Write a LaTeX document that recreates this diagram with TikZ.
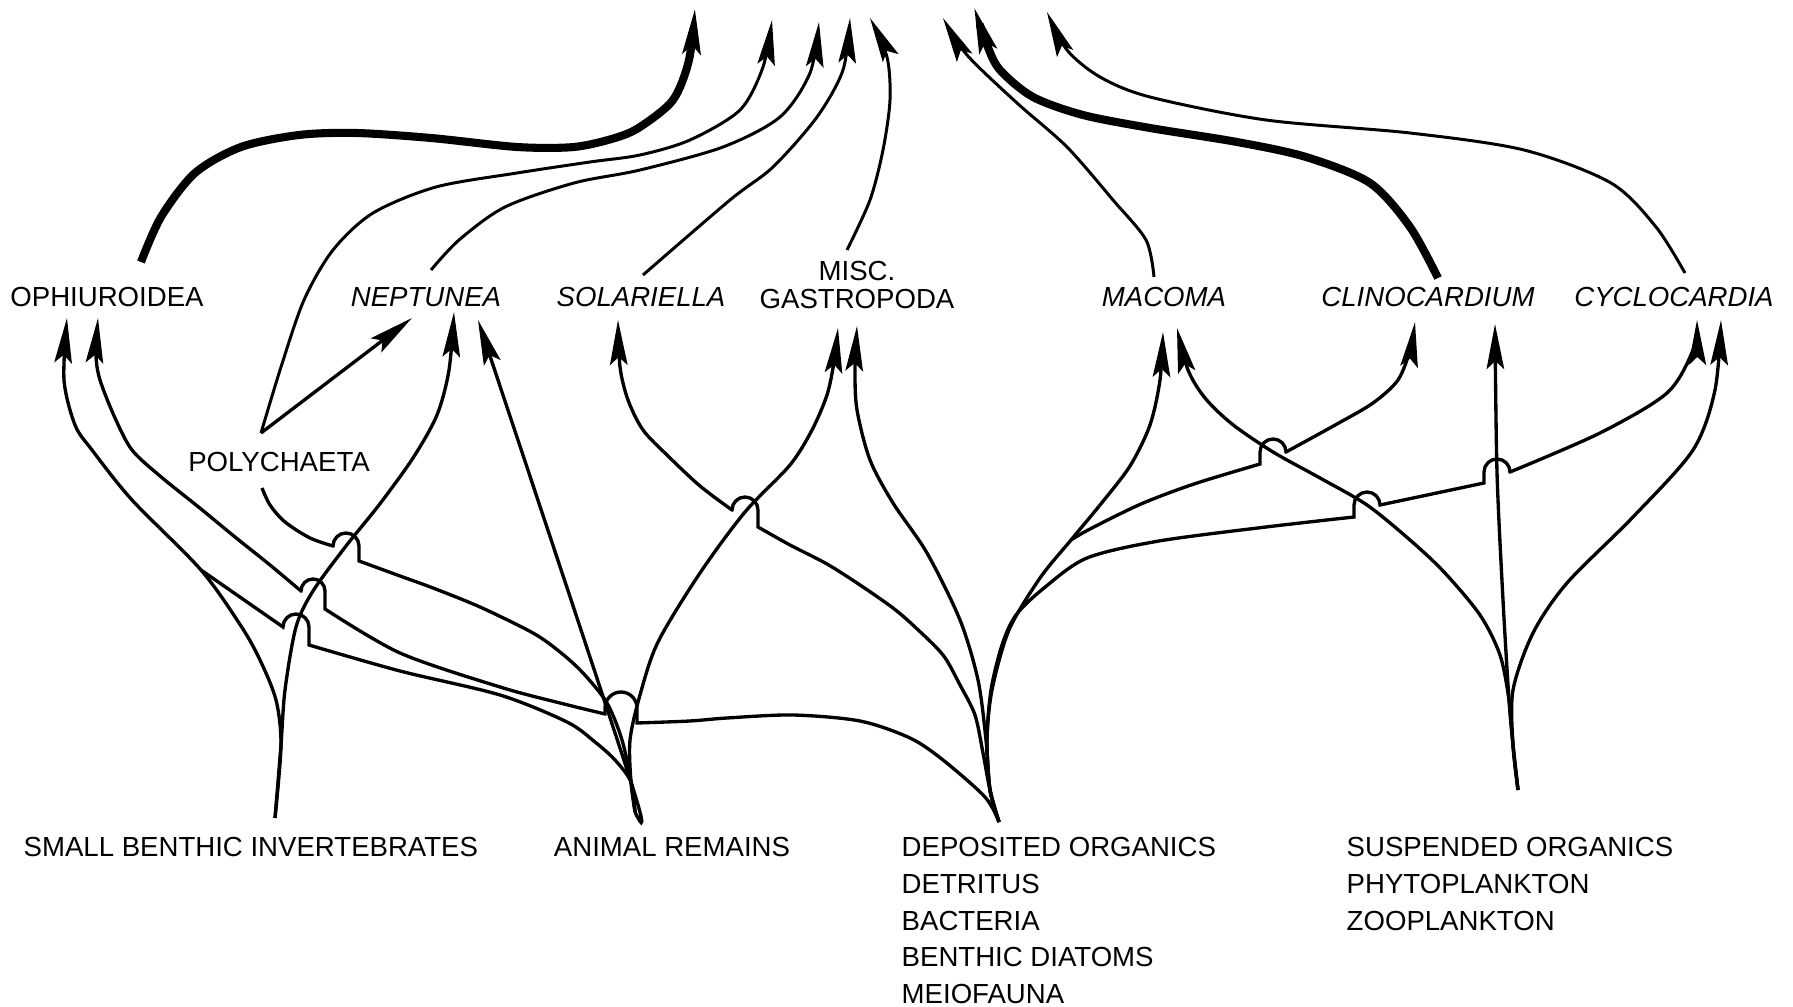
\documentclass[tikz,border=0pt]{standalone}
\usepackage{fontspec}
\setmainfont{Liberation Sans}
\usetikzlibrary{arrows.meta}

\begin{document}
\begin{tikzpicture}[x=0.1mm,y=-0.1mm]
\useasboundingbox (0,0) rectangle (1793,1007);

\coordinate (SBI_0) at (275,818);
\coordinate (ANR_0) at (635,812);
\coordinate (DEP_0) at (999,822);
\coordinate (SUS_0) at (1518,790);

\coordinate (OPH_0) at (141,262);
\coordinate (OPH_1) at (67,318);
\coordinate (OPH_2) at (98,318);
\coordinate (OPH_J) at (201,570);
\coordinate (POL_1) at (262,488);
\coordinate (POL_2) at (261,433);
\coordinate (NEP_0) at (431,270);
\coordinate (NEP_1) at (412,318);
\coordinate (NEP_2) at (454,312);
\coordinate (NEP_3) at (478,320);
\coordinate (SOL_0) at (643,275);
\coordinate (SOL_1) at (618,320);
\coordinate (MSC_0) at (847,250);
\coordinate (MSC_1) at (838,328);
\coordinate (MSC_2) at (857,326);
\coordinate (MAC_0) at (1154,277);
\coordinate (MAC_1) at (1163,332);
\coordinate (MAC_2) at (1177,328);
\coordinate (CLI_0) at (1438,278);
\coordinate (CLI_1) at (1415,322);
\coordinate (CLI_2) at (1495,324);
\coordinate (CLI_J) at (1071,540);
\coordinate (CYC_0) at (1685,273);
\coordinate (CYC_1) at (1697,320);
\coordinate (CYC_2) at (1721,320);

\coordinate (TOP_1) at (695,8);
\coordinate (TOP_2) at (772,20);
\coordinate (TOP_3) at (819,22);
\coordinate (TOP_4) at (850,18);
\coordinate (TOP_5) at (870,18);
\coordinate (TOP_6) at (943,18);
\coordinate (TOP_7) at (974,7);
\coordinate (TOP_8) at (1047,12);


\tikzset{LabelStyle/.style = {inner sep = 0pt, font = \fontsize{7.85}{10.4}\selectfont} }
\tikzset{TaxonStyle/.style = {inner sep = 0pt, font = \fontsize{7.85}{10.4}\selectfont\itshape} }

\node[LabelStyle] (OPH) at (107,297) {OPHIUROIDEA};
\node[TaxonStyle] (NEP) at (426,297) {NEPTUNEA};
\node[TaxonStyle] (SOL) at (641,297) {SOLARIELLA};
\node[LabelStyle, align=center, font=\fontsize{7.85}{7.8}\selectfont] (MSC) at (857,285) {MISC.\\GASTROPODA};
\node[TaxonStyle] (MAC) at (1164,297) {MACOMA};
\node[TaxonStyle] (CLI) at (1428,297) {CLINOCARDIUM};
\node[TaxonStyle] (CYC) at (1674,297) {CYCLOCARDIA};
\node[LabelStyle] (POL) at (279,462) {POLYCHAETA};
\node[LabelStyle, anchor=west] (SBI) at (23,847) {SMALL BENTHIC INVERTEBRATES};
\node[LabelStyle] (ANR) at (672,847) {ANIMAL REMAINS};
\node[LabelStyle, anchor=north west, align=left] (DEP) at (901,837) {DEPOSITED ORGANICS\\DETRITUS\\BACTERIA\\BENTHIC DIATOMS\\MEIOFAUNA};
\node[LabelStyle, anchor=north west, align=left] (SUS) at (1346,837) {SUSPENDED ORGANICS\\PHYTOPLANKTON\\ZOOPLANKTON};


\tikzset{FlowStyle/.style = {line width = 0.95pt, -{Stealth[length = 4.5mm, width = 1.75mm, inset = 0.8mm]}} }
\tikzset{LinkStyle/.style = {line width = 0.95pt} }
\tikzset{TopStyle/.style = {FlowStyle, line width = 0.85pt} }
\tikzset{MainStyle/.style = {FlowStyle, line width = 2.3pt} }

\draw[FlowStyle] plot[smooth] coordinates {(SBI_0) (281,745) (276,700) (260,660) (241,626) (OPH_J) (132,500) (92,450) (75,425) (64,380) (OPH_1)};
\draw[FlowStyle] plot[smooth] coordinates {(SBI_0) (281,745) (285,690) (296,627) (313,591) (346,546) (379,505) (413,458) (437,415) (449,370) (NEP_2)};
\draw[LinkStyle] plot[smooth] coordinates {(ANR_0) (631,782) (615,760) (595,742) (567,722) (500,695) (400,671) (309,645)} -- ++(0,-18) arc[start angle=0, end angle=180, radius=1.3mm] -- (OPH_J);
\draw[LinkStyle] plot[smooth] coordinates {(ANR_0) (631,782) (622,740) (607,703) (583,673) (560,652) (533,633) (480,607) (433,588) (400,576) (359,561)} -- ++(0,-15) arc[start angle=0, end angle=180, radius=1.3mm] -- plot[smooth] coordinates {(333,546) (310,538) (285,522) (270,505) (POL_1)};
\draw[FlowStyle] plot[smooth] coordinates {(ANR_0) (631,782) (NEP_3)};
\draw[FlowStyle] plot[smooth] coordinates {(ANR_0) (631,782) (630,740) (640,695) (658,642) (700,573) (745,512) (790,465) (812,430) (827,395) (834,362) (MSC_1)};
\draw[FlowStyle] (POL_2) -- (NEP_1);

\draw[FlowStyle] plot[smooth] coordinates {(DEP_0) (985,797) (943,760) (910,738) (860,721) (793,715) (727,718) (690,721) (637,723)} -- ++(0,-15) arc[start angle=0, end angle=180, radius=1.6mm] -- ++(0,6) -- plot[smooth] coordinates {(605,714) (560,703) (500,687) (400,653) (325,609)} -- ++(0,-18) arc[start angle=0, end angle=180, radius=1.2mm] -- plot[smooth] coordinates {(301,591) (270,565) (235,537) (201,509) (160,476) (132,450) (115,418) (100,380) (96,355) (OPH_2)};
\draw[FlowStyle] plot[smooth] coordinates {(DEP_0) (990,790) (983,753) (975,715) (960,685) (943,655) (915,627) (893,608) (860,585) (827,564) (790,545) (758,527)} -- ++(0,-17) arc[start angle=0, end angle=180, radius=1.3mm] -- plot[smooth] coordinates {(732,510) (700,486) (668,456) (643,430) (628,400) (620,367) (SOL_1)};
\draw[FlowStyle] plot[smooth] coordinates {(DEP_0) (990,790) (986,740) (978,680) (960,620) (927,553) (893,503) (870,460) (857,410) (855,370) (MSC_2)};
\draw[FlowStyle] plot[smooth] coordinates {(DEP_0) (990,790) (987,740) (992,690) (1009,630) (1040,578) (CLI_J) (1100,505) (1130,466) (1150,425) (1160,380) (MAC_1)};
\draw[FlowStyle] plot[smooth] coordinates {(CLI_J) (1090,529) (1141,504) (1194,484) (1260,464)} -- ++(0,-12) arc[start angle=180, end angle=0, radius=1.3mm] -- plot[smooth] coordinates {(1286,452) (1337,424) (1373,403) (1398,380) (1410,350) (CLI_1)};
\draw[FlowStyle] plot[smooth] coordinates {(DEP_0) (990,790) (987,740) (991,690) (1002,645) (1016,615) (1044,588) (1087,558) (1159,541) (1266,527) (1354,517)} -- ++(0,-12) arc[start angle=180, end angle=0, radius=1.3mm] -- (1484,483) -- ++(0,-11) arc[start angle=180, end angle=0, radius=1.3mm] -- plot[smooth] coordinates {(1510,472) (1600,433) (1667,393) (1693,350) (CYC_1)};

\draw[FlowStyle] plot[smooth] coordinates {(SUS_0) (1513,745) (1509,700) (1500,655) (1480,615) (1444,572) (1410,540) (1367,505) (1320,478) (1273,452) (1232,424) (1205,398) (1188,370) (MAC_2)};
\draw[FlowStyle] plot[smooth] coordinates {(SUS_0) (1513,745) (1509,700) (1503,600) (1497,472) (CLI_2)};
\draw[FlowStyle] plot[smooth] coordinates {(SUS_0) (1513,745) (1513,690) (1533,633) (1567,583) (1633,517) (1693,450) (1715,390) (CYC_2)};

\draw[MainStyle] plot[smooth] coordinates {(OPH_0) (161,217) (195,173) (241,147) (299,135) (356,133) (431,138) (517,147) (574,147) (615,138) (640,127) (673,100) (689,60) (TOP_1)};
\draw[TopStyle] plot[smooth] coordinates {(POL_2) (281,367) (304,300) (333,250) (373,213) (436,187) (517,173) (590,162) (640,155) (690,140) (740,110) (763,67) (TOP_2)};
\draw[TopStyle] plot[smooth] coordinates {(NEP_0) (459,240) (505,207) (574,183) (640,170) (723,147) (780,117) (810,73) (TOP_3)};
\draw[TopStyle] plot[smooth] coordinates {(SOL_0) (730,200) (773,167) (817,117) (843,70) (TOP_4)};
\draw[TopStyle] plot[smooth] coordinates {(MSC_0) (870,200) (883,150) (890,100) (887,57) (TOP_5)};
\draw[TopStyle] plot[smooth] coordinates {(MAC_0) (1146,240) (1113,200) (1067,147) (1017,103) (967,55) (TOP_6)};
\draw[MainStyle] plot[smooth] coordinates {(CLI_0) (1410,227) (1370,183) (1306,157) (1237,142) (1150,128) (1083,115) (1033,97) (1000,70) (987,45) (TOP_7)};
\draw[TopStyle] plot[smooth] coordinates {(CYC_0) (1656,227) (1611,183) (1524,150) (1410,133) (1266,120) (1150,97) (1100,77) (1067,50) (TOP_8)};

\end{tikzpicture}
\end{document}
